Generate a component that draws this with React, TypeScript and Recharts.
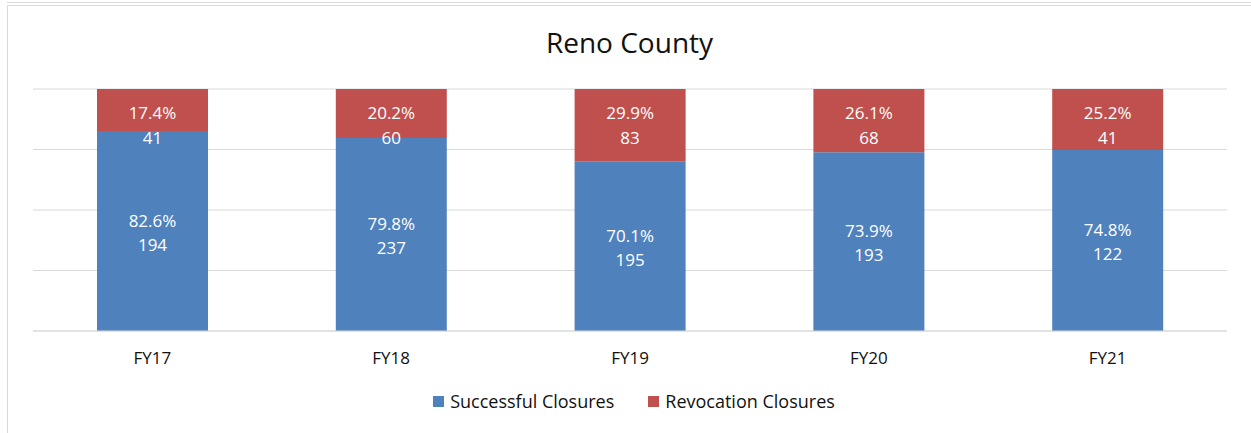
import { BarChart, Bar, XAxis, YAxis, CartesianGrid, Legend, LabelList } from "recharts";

const years = ["FY17", "FY18", "FY19", "FY20", "FY21"];
const successPct = [82.6, 79.8, 70.1, 73.9, 74.8];
const revocationPct = [17.4, 20.2, 29.9, 26.1, 25.2];
const successCount = [194, 237, 195, 193, 122];
const revocationCount = [41, 60, 83, 68, 41];
const yTicks = [0, 25, 50, 75, 100];

const BLUE = "#4F81BD";
const RED = "#C0504D";
const FONT = "'Open Sans', sans-serif";

const data = years.map((y, i) => ({
  year: y,
  success: successPct[i],
  revocation: revocationPct[i],
  successCount: successCount[i],
  revocationCount: revocationCount[i],
}));

const labelStyle = { fontSize: 17, fontFamily: FONT, fill: "#fff" };

// label centred in the blue segment
const successLabel = (props: any) => {
  const { x, y, width, height, index } = props;
  const cx = x + width / 2;
  const cy = y + height / 2;
  return (
    <g>
      <text x={cx} y={cy - 11} textAnchor="middle" dominantBaseline="central" style={labelStyle}>
        {successPct[index].toFixed(1)}%
      </text>
      <text x={cx} y={cy + 13} textAnchor="middle" dominantBaseline="central" style={labelStyle}>
        {successCount[index]}
      </text>
    </g>
  );
};

// label anchored to the top of the red segment
const revocationLabel = (props: any) => {
  const { x, y, width, index } = props;
  const cx = x + width / 2;
  return (
    <g>
      <text x={cx} y={y + 23.5} textAnchor="middle" dominantBaseline="central" style={labelStyle}>
        {revocationPct[index].toFixed(1)}%
      </text>
      <text x={cx} y={y + 48.5} textAnchor="middle" dominantBaseline="central" style={labelStyle}>
        {revocationCount[index]}
      </text>
    </g>
  );
};

const renderTick = (props: any) => {
  const { x, payload } = props;
  return (
    <text x={x} y={357} textAnchor="middle" dominantBaseline="central" style={{ fontSize: 17, fontFamily: FONT, fill: "#111" }}>
      {payload.value}
    </text>
  );
};

const renderLegend = () => {
  const items = [
    { name: "Successful Closures", color: BLUE },
    { name: "Revocation Closures", color: RED },
  ];
  return (
    <div style={{ display: "flex", justifyContent: "center", gap: 34, paddingLeft: 17, fontFamily: FONT, fontSize: 18, color: "#111", height: 20, lineHeight: "20px" }}>
      {items.map((it) => (
        <div key={it.name} style={{ display: "flex", alignItems: "center" }}>
          <span style={{ display: "inline-block", width: 11, height: 11, background: it.color, marginRight: 6 }} />
          {it.name}
        </div>
      ))}
    </div>
  );
};

export default function App() {
  return (
    <div style={{ position: "absolute", left: 0, top: 0, width: 1251, height: 433, background: "#fff", overflow: "hidden" }}>
      <div style={{ position: "absolute", left: 7, top: 2, width: 1244, height: 0, borderTop: "1px solid #d9d9d9" }} />
      <div style={{ position: "absolute", left: 7, top: 5, width: 1260, height: 440, border: "1px solid #d9d9d9" }} />
      <div style={{ position: "absolute", left: 4, top: 25, width: 1251, textAlign: "center", fontFamily: FONT, fontSize: 28, color: "#111", lineHeight: "34px" }}>
        Reno County
      </div>
      <div style={{ position: "absolute", left: 0, top: 0 }}>
        <BarChart
          width={1251}
          height={433}
          data={data}
          margin={{ top: 89, right: 24, left: 33, bottom: 52 }}
          barCategoryGap="26.8%"
        >
          <CartesianGrid vertical={false} stroke="#d9d9d9" />
          <XAxis dataKey="year" axisLine={{ stroke: "#d9d9d9" }} tickLine={false} height={30} tick={renderTick} />
          <YAxis hide domain={[0, 100]} ticks={yTicks} />
          <Legend
            content={renderLegend}
            verticalAlign="bottom"
            wrapperStyle={{ top: 391, bottom: "auto", left: 0, width: 1251 }}
          />
          <Bar dataKey="success" name="Successful Closures" stackId="a" fill={BLUE} isAnimationActive={false}>
            <LabelList dataKey="success" content={successLabel} />
          </Bar>
          <Bar dataKey="revocation" name="Revocation Closures" stackId="a" fill={RED} isAnimationActive={false}>
            <LabelList dataKey="revocation" content={revocationLabel} />
          </Bar>
        </BarChart>
      </div>
    </div>
  );
}
